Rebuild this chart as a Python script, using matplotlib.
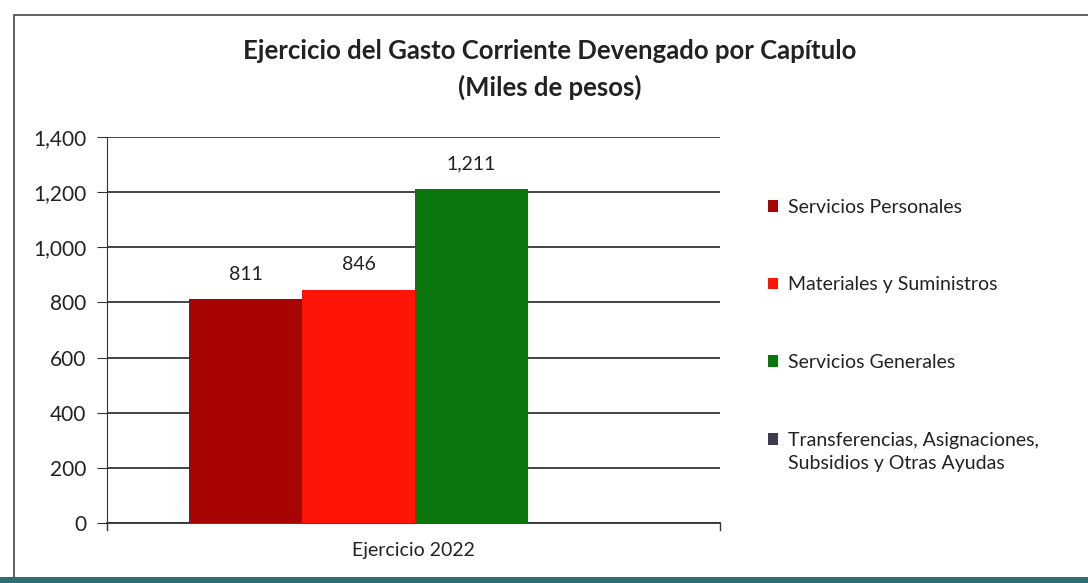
import matplotlib.pyplot as plt
from matplotlib.patches import Rectangle

plt.rcParams['font.family'] = ['Lato', 'DejaVu Sans']

series = ["Servicios Personales", "Materiales y Suministros", "Servicios Generales",
          "Transferencias, Asignaciones,"]
series_extra = "Subsidios y Otras Ayudas"
values = [811, 846, 1211, 0]
labels = ["811", "846", "1,211", ""]
colors = ["#A80404", "#FF1508", "#0B750E", "#3C3D4C"]
category = "Ejercicio 2022"
yticks = [0, 200, 400, 600, 800, 1000, 1200, 1400]

fig = plt.figure(figsize=(10.88, 5.83), dpi=100)
ax = fig.add_axes([107/1088, 1-523/583, (720-107)/1088, (523-137)/583])

w = 1.0
offsets = [-1.5, -0.5, 0.5, 1.5]
for off, v, c, s, lab in zip(offsets, values, colors, series, labels):
    ax.bar(off*w + 0.013, v, width=w, color=c, label=s, zorder=3)
    if lab:
        ax.text(off*w + 0.013, v + 60, lab, ha="center", va="bottom", fontsize=14, color="#222222")

ax.set_xlim(-2.713, 2.713)
ax.set_ylim(0, 1400)
ax.set_yticks(yticks)
ax.set_yticklabels([f"{t:,}" for t in yticks], fontsize=15, color="#222222")
ax.yaxis.grid(True, color="#111111", linewidth=1.1, zorder=0)
ax.set_xticks([0])
ax.set_xticklabels([category], fontsize=14, color="#222222")
ax.tick_params(axis="x", length=0, pad=14)
ax.tick_params(axis="y", length=7, color="#333333", pad=8)
for sp in ["top", "right"]:
    ax.spines[sp].set_visible(False)
ax.spines["left"].set_color("#333333")
ax.spines["bottom"].set_color("#333333")
ax.spines["bottom"].set_linewidth(1.3)
# end ticks of the category axis
ax.plot([-2.713, -2.713], [0, -25], color="#333333", lw=1, clip_on=False)
ax.plot([2.713, 2.713], [0, -25], color="#333333", lw=1, clip_on=False)

fig.text(0.505, 0.912, "Ejercicio del Gasto Corriente Devengado por Capítulo",
         ha="center", va="center", fontsize=18.5, fontweight="bold", color="#222222")
fig.text(0.505, 0.85, "(Miles de pesos)", ha="center", va="center",
         fontsize=18.5, fontweight="bold", color="#222222")

leg = ax.legend(loc="upper left", bbox_to_anchor=(760/1088, 1-191/583),
                bbox_transform=fig.transFigure, frameon=False, fontsize=14,
                handlelength=0.55, handleheight=0.55, handletextpad=0.5,
                labelspacing=3.12, borderaxespad=0)
for t in leg.get_texts():
    t.set_color("#222222")

# second line of the last legend entry
fig.canvas.draw()
last = leg.get_texts()[-1].get_window_extent()
x0, y0 = fig.transFigure.inverted().transform((last.x0, last.y0))
fig.text(x0, y0 - 6/583, series_extra, ha="left", va="top", fontsize=14, color="#222222")

# outer frame of the scanned chart
fig.patches.append(Rectangle((14/1088, 5/583), 1.1, 1-20/583, transform=fig.transFigure,
                             fill=False, edgecolor="#444444", linewidth=1.2))
fig.patches.append(Rectangle((0, 0), 1, 6/583, transform=fig.transFigure,
                             facecolor="#2E6E72", edgecolor="none"))

fig.savefig("out.png", dpi=100)
